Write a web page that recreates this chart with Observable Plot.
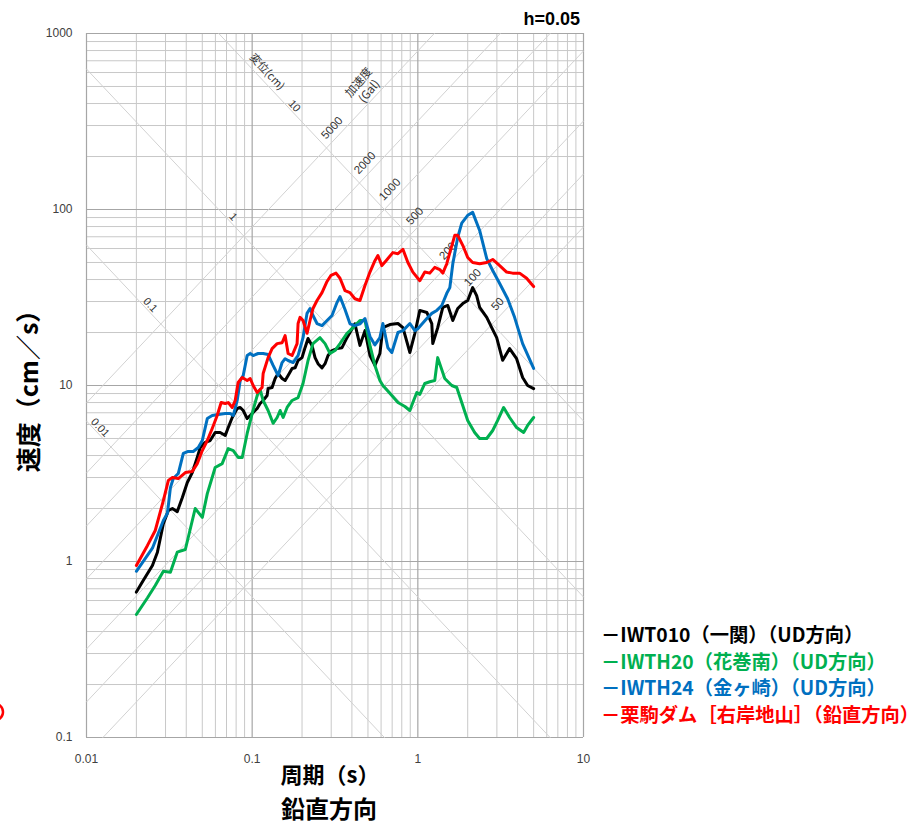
<!DOCTYPE html>
<html><head><meta charset="utf-8">
<script src="https://cdn.jsdelivr.net/npm/d3@7"></script>
<script src="https://cdn.jsdelivr.net/npm/@observablehq/plot@0.6"></script>
<style>body{margin:0;background:#fff}</style>
</head><body><div id="chart"></div>
<script>
// ---- data ----
const X_TICKS = [0.01, 0.1, 1, 10];
const X_TICK_LABELS = ["0.01", "0.1", "1", "10"];
const Y_TICKS = [0.1, 1, 10, 100, 1000];
const Y_TICK_LABELS = ["0.1", "1", "10", "100", "1000"];
const DISP_LINES = [0.01, 0.1, 1, 10];          // cm
const DISP_LABEL_T = [0.0121, 0.0243, 0.0769, 0.18];
const ACC_LINES = [5000, 2000, 1000, 500, 200, 100, 50]; // Gal

const SERIES_NAMES = ["－IWT010（一関）（UD方向）", "－IWTH20（花巻南）（UD方向）", "－IWTH24（金ヶ崎）（UD方向）", "－栗駒ダム［右岸地山］（鉛直方向）"];
const SERIES_COLORS = ["#000000", "#00b050", "#0070c0", "#ff0000"];

const iwt010 = [[0.02,0.67],[0.022,0.78],[0.025,0.95],[0.0268,1.13],[0.0291,1.64],[0.0312,1.95],[0.033,2.0],[0.0353,1.92],[0.0379,2.31],[0.0406,2.81],[0.0435,3.2],[0.0466,3.9],[0.0486,4.44],[0.0521,4.75],[0.0558,4.87],[0.0598,5.41],[0.0641,5.41],[0.0688,5.2],[0.0717,5.77],[0.0758,6.58],[0.0812,7.4],[0.0847,7.5],[0.0883,7.21],[0.0933,6.49],[0.0973,6.75],[0.1014,7.03],[0.1072,7.4],[0.1117,7.9],[0.1165,8.22],[0.1231,8.77],[0.1248,9.61],[0.1319,9.74],[0.1376,10.96],[0.1434,11.7],[0.1516,10.96],[0.1581,10.67],[0.1648,11.4],[0.1742,12.5],[0.1816,12.6],[0.1893,13.87],[0.2,14.4],[0.2085,16.4],[0.2174,18.5],[0.2297,16.9],[0.2396,14.4],[0.2497,13.3],[0.264,12.6],[0.2754,13.3],[0.2871,14.8],[0.3034,15.8],[0.3251,16.2],[0.3486,16.4],[0.3736,18.7],[0.3894,20.0],[0.4171,22.4],[0.4474,16.9],[0.4797,20.5],[0.514,14.8],[0.5508,13.0],[0.5902,15.2],[0.6152,21.3],[0.6776,22.2],[0.7586,22.5],[0.8128,21.3],[0.8954,15.4],[0.9594,19.8],[1.028,26.7],[1.133,26.0],[1.214,22.5],[1.231,17.3],[1.318,21.3],[1.415,27.8],[1.517,28.5],[1.626,23.4],[1.741,27.4],[1.867,29.2],[2.0,30.4],[2.143,36.0],[2.265,32.4],[2.361,27.8],[2.606,24.4],[2.792,21.3],[2.992,18.7],[3.252,13.9],[3.581,16.2],[3.946,14.2],[4.291,11.1],[4.599,10.0],[5,9.6]];

const iwth20 = [[0.02,0.5],[0.0233,0.62],[0.026,0.73],[0.0291,0.88],[0.0321,0.87],[0.0353,1.13],[0.0395,1.17],[0.0453,2.0],[0.05,1.78],[0.0536,2.43],[0.0598,3.42],[0.0659,3.6],[0.0717,4.38],[0.0769,4.27],[0.0823,3.9],[0.0871,3.9],[0.0933,5.34],[0.1,6.93],[0.1072,8.77],[0.1117,9.48],[0.1165,8.22],[0.1248,7.21],[0.1338,6.1],[0.1415,6.58],[0.1475,7.21],[0.1538,6.58],[0.1625,7.5],[0.1742,8.22],[0.1893,8.54],[0.2028,10.27],[0.2174,13.87],[0.2329,17.3],[0.2567,18.7],[0.2754,17.3],[0.2951,15.2],[0.3162,15.8],[0.339,17.3],[0.3736,19.8],[0.3894,20.5],[0.4171,21.9],[0.4474,23.4],[0.4797,23.4],[0.514,16.9],[0.5508,13.0],[0.5902,10.67],[0.6152,10.0],[0.6966,8.77],[0.7586,8.0],[0.8356,7.6],[0.8954,7.21],[0.9333,8.0],[0.986,9.13],[1.028,8.9],[1.102,10.27],[1.181,10.5],[1.265,10.67],[1.318,14.4],[1.454,10.96],[1.495,10.67],[1.603,10.0],[1.718,9.74],[1.841,8.0],[2.0,6.33],[2.203,5.41],[2.361,5.0],[2.606,5.0],[2.831,5.55],[3.034,6.33],[3.296,7.5],[3.581,6.58],[3.946,5.77],[4.351,5.41],[4.599,5.93],[5,6.58]];

const iwth24 = [[0.02,0.88],[0.025,1.19],[0.0291,1.71],[0.0308,1.88],[0.0321,2.63],[0.0334,2.96],[0.0358,3.16],[0.0384,4.11],[0.0411,4.22],[0.0441,4.22],[0.0473,4.44],[0.05,4.87],[0.0536,6.49],[0.0574,6.75],[0.0624,6.84],[0.0688,6.93],[0.0737,6.93],[0.0769,6.75],[0.0812,8.22],[0.0847,10.67],[0.0883,11.4],[0.0933,14.8],[0.0973,15.2],[0.1014,14.8],[0.1087,15.2],[0.1165,15.2],[0.1248,15.0],[0.1338,13.0],[0.1434,11.4],[0.1516,13.5],[0.1581,14.2],[0.1648,13.87],[0.1766,13.5],[0.1893,14.8],[0.2028,18.7],[0.2144,25.7],[0.2235,27.4],[0.2329,25.0],[0.2463,22.5],[0.264,21.9],[0.2831,23.4],[0.3034,25.0],[0.3251,29.6],[0.339,32.0],[0.3634,27.0],[0.3894,22.4],[0.4171,21.9],[0.4474,22.4],[0.4797,24.0],[0.514,19.0],[0.5508,17.0],[0.5902,18.7],[0.6152,22.5],[0.6592,16.4],[0.6966,15.4],[0.7586,20.0],[0.8128,20.5],[0.8954,22.5],[0.9594,20.5],[1.0,21.0],[1.133,24.0],[1.214,25.7],[1.301,26.7],[1.395,28.5],[1.495,33.4],[1.56,36.0],[1.626,49.2],[1.741,69.5],[1.841,83.7],[2.0,92.7],[2.143,96.3],[2.361,76.0],[2.606,52.6],[2.831,45.0],[3.119,38.0],[3.483,31.1],[3.838,24.4],[4.291,17.3],[5,12.5]];

const kurikoma = [[0.02,0.95],[0.0233,1.23],[0.026,1.5],[0.0291,2.22],[0.0312,2.89],[0.033,3.0],[0.0358,2.96],[0.0395,3.2],[0.0435,3.25],[0.0466,3.6],[0.05,4.27],[0.0536,4.87],[0.0574,5.7],[0.0615,6.75],[0.065,8.0],[0.0688,7.9],[0.0717,8.0],[0.0758,7.5],[0.079,8.22],[0.0823,10.4],[0.0871,11.1],[0.0933,10.67],[0.0973,10.96],[0.1014,10.0],[0.1072,9.13],[0.1148,9.74],[0.1165,11.7],[0.1248,14.4],[0.1319,16.2],[0.1415,17.3],[0.1516,17.5],[0.1581,19.2],[0.1648,15.2],[0.1742,14.8],[0.1867,17.3],[0.1893,22.5],[0.1946,24.4],[0.2028,23.4],[0.2144,19.8],[0.2235,23.4],[0.2329,27.4],[0.2463,30.4],[0.264,33.7],[0.2831,39.0],[0.2992,42.3],[0.3206,43.5],[0.339,40.7],[0.3634,34.6],[0.3894,33.7],[0.4171,31.1],[0.4474,30.4],[0.4797,37.0],[0.514,44.1],[0.5508,51.2],[0.5741,54.8],[0.6067,48.0],[0.6413,51.0],[0.7063,56.9],[0.7586,56.1],[0.8128,59.4],[0.871,50.0],[0.9333,44.1],[1.028,39.4],[1.102,44.1],[1.181,43.5],[1.265,46.9],[1.357,45.6],[1.415,43.5],[1.495,49.2],[1.56,56.9],[1.671,71.3],[1.741,71.3],[1.867,62.6],[2.0,53.4],[2.143,50.0],[2.361,49.2],[2.606,50.0],[2.831,52.0],[3.119,48.0],[3.436,44.1],[3.733,43.5],[4.114,43.5],[4.536,40.7],[5,36.5]];

const SERIES = [iwt010, iwth20, iwth24, kurikoma];

// ---- derived helpers ----
const TWO_PI = 2 * Math.PI;
const [T0, T1] = [0.01, 10], [V0, V1] = [0.1, 1000];
const minorX = [], minorY = [];
for (const e of [-2, -1, 0]) for (let k = 2; k <= 9; k++) minorX.push(k * 10 ** e);
for (const e of [-1, 0, 1, 2]) for (let k = 2; k <= 9; k++) minorY.push(k * 10 ** e);

const dispSeg = DISP_LINES.flatMap(D => {
  const a = Math.max(T0, TWO_PI * D / V1), b = Math.min(T1, TWO_PI * D / V0);
  return [{D, T: a, V: TWO_PI * D / a}, {D, T: b, V: TWO_PI * D / b}];
});
const accSeg = ACC_LINES.flatMap(A => {
  const a = Math.max(T0, V0 * TWO_PI / A), b = Math.min(T1, V1 * TWO_PI / A);
  return [{A, T: a, V: A * a / TWO_PI}, {A, T: b, V: A * b / TWO_PI}];
});
const dispLab = DISP_LINES.map((D, i) => ({T: DISP_LABEL_T[i], V: TWO_PI * D / DISP_LABEL_T[i], text: String(D)}));
const LABEL_D = 13;
const accLab = ACC_LINES.map(A => ({T: TWO_PI * Math.sqrt(LABEL_D / A), V: Math.sqrt(A * LABEL_D), text: String(A)}));

const NUM_FONT = "'Liberation Sans', Arial, sans-serif";
const JP_FONT = "'Noto Sans CJK JP', sans-serif";
const diagColor = "#d2d2d2";

const marks = [
  Plot.ruleX(minorX, {stroke: "#c8c8c8", strokeWidth: 1}),
  Plot.ruleY(minorY, {stroke: "#c8c8c8", strokeWidth: 1}),
  Plot.ruleX(X_TICKS, {stroke: "#a6a6a6", strokeWidth: 1.2}),
  Plot.ruleY(Y_TICKS, {stroke: "#a6a6a6", strokeWidth: 1.2}),
  Plot.line(dispSeg, {x: "T", y: "V", z: "D", stroke: diagColor, strokeWidth: 1}),
  Plot.line(accSeg, {x: "T", y: "V", z: "A", stroke: diagColor, strokeWidth: 1}),
  Plot.text(dispLab, {x: "T", y: "V", text: "text", rotate: 47, dy: -8, fontSize: 11, fill: "#333", fontFamily: NUM_FONT}),
  Plot.text(accLab, {x: "T", y: "V", text: "text", rotate: -47, dx: -4, dy: -10, fontSize: 11.5, fill: "#333", fontFamily: NUM_FONT}),
  Plot.text([{T: 0.123, V: TWO_PI * 10 / 0.123}], {x: "T", y: "V", text: () => "変位(cm)", rotate: 47, dy: -13, fontSize: 11, fill: "#333", fontFamily: JP_FONT}),
  Plot.text([{T: 0.47, V: 500}], {x: "T", y: "V", text: () => "加速度\n(Gal)", rotate: -50, fontSize: 11.5, lineHeight: 1.2, fill: "#333", fontFamily: JP_FONT}),
  Plot.text(X_TICKS, {x: d => d, y: () => V0, dy: 22, text: (d, i) => X_TICK_LABELS[i], fontSize: 12, fill: "#404040", fontFamily: NUM_FONT}),
  Plot.text(Y_TICKS, {x: () => T0, y: d => d, dx: -14, textAnchor: "end", text: (d, i) => Y_TICK_LABELS[i], fontSize: 12, fill: "#404040", fontFamily: NUM_FONT}),
  ...SERIES.map((s, i) => Plot.line(s, {x: d => d[0], y: d => d[1], stroke: SERIES_COLORS[i], strokeWidth: 3, strokeLinejoin: "round", strokeLinecap: "round"}))
];

const svg = Plot.plot({
  width: 919, height: 826,
  marginLeft: 86, marginRight: 336, marginTop: 33, marginBottom: 89,
  x: {type: "log", domain: [T0, T1], axis: null},
  y: {type: "log", domain: [V0, V1], axis: null},
  style: {background: "#fff", fontFamily: NUM_FONT},
  marks
});

const s = d3.select(svg);
// titles & legend (static text)
s.append("text").attr("x", 580).attr("y", 25).attr("text-anchor", "end")
  .attr("font-family", NUM_FONT).attr("font-weight", "bold").attr("font-size", 18).text("h=0.05");
s.append("text").attr("transform", "translate(38,385) rotate(-90)").attr("text-anchor", "middle")
  .attr("font-family", JP_FONT).attr("font-weight", "bold").attr("font-size", 25).text("速度（cm／s）");
s.append("text").attr("x", 330).attr("y", 783).attr("text-anchor", "middle")
  .attr("font-family", JP_FONT).attr("font-weight", "bold").attr("font-size", 22).text("周期（s）");
s.append("text").attr("x", 329).attr("y", 818).attr("text-anchor", "middle")
  .attr("font-family", JP_FONT).attr("font-weight", "bold").attr("font-size", 24).text("鉛直方向");
SERIES_NAMES.forEach((name, i) => {
  s.append("text").attr("x", 601).attr("y", 642 + i * 26.5).attr("text-anchor", "start")
    .attr("font-family", JP_FONT).attr("font-weight", "bold").attr("font-size", 19.3)
    .attr("fill", SERIES_COLORS[i]).text(name);
});
s.append("ellipse").attr("cx", -7).attr("cy", 712).attr("rx", 10).attr("ry", 9)
  .attr("fill", "none").attr("stroke", "#ff0000").attr("stroke-width", 2.5);

document.getElementById("chart").appendChild(svg);
</script></body></html>
